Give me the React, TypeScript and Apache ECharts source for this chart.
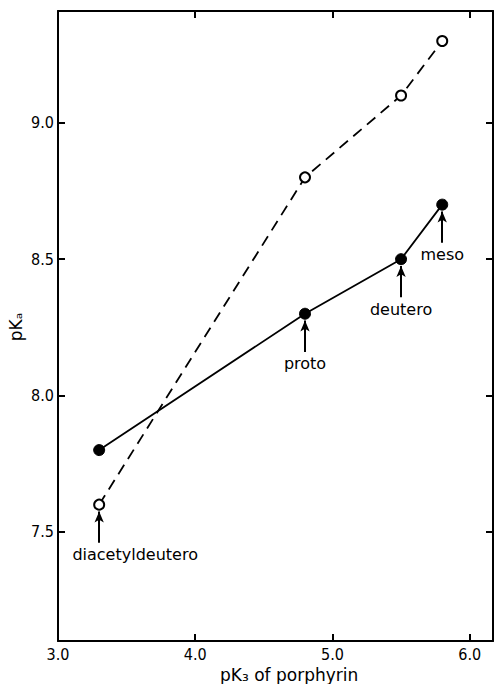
import React, { useEffect, useRef } from "react";
import * as echarts from "echarts";

const xValues = [3.3, 4.8, 5.5, 5.8];
const openValues = [7.6, 8.8, 9.1, 9.3];
const filledValues = [7.8, 8.3, 8.5, 8.7];
const openNames = ["diacetyldeutero", "", "", ""];
const filledNames = ["", "proto", "deutero", "meso"];
const xTicks = [3, 4, 5, 6];
const yTicks = [7.5, 8.0, 8.5, 9.0];
const xTitle = "pK\u2083 of porphyrin";
const yTitle = "pK\u2090";

const X_MIN = 3;
const X_MAX = 6.17;
const Y_MIN = 7.1;
const Y_MAX = 9.41;

const LABEL_FONT = "'DejaVu Sans', sans-serif";
const TICK_FONT = "'DejaVu Sans Condensed', 'DejaVu Sans', sans-serif";

function arrowsFor(names: string[], ys: number[]) {
  const out: any[] = [];
  names.forEach((n, i) => {
    if (!n) return;
    out.push([
      { coord: [xValues[i], ys[i] - 0.025] },
      { coord: [xValues[i], ys[i] - 0.14] },
    ]);
  });
  return out;
}

function makeData(ys: number[], names: string[], extraOffset: number[][]) {
  return xValues.map((x, i) => ({
    value: [x, ys[i]],
    name: names[i],
    label: names[i]
      ? {
          show: true,
          position: "bottom",
          distance: 36,
          offset: extraOffset[i],
          formatter: "{b}",
          color: "#000",
          fontSize: 16,
          fontFamily: LABEL_FONT,
        }
      : { show: false },
  }));
}

export default function App() {
  const ref = useRef<HTMLDivElement>(null);
  useEffect(() => {
    if (!ref.current) return;
    const chart = echarts.init(ref.current, null, { renderer: "svg" });
    const axisLine = { show: true, lineStyle: { color: "#000", width: 2 } };
    const tickStyle = { color: "#000", width: 2 };
    const option: any = {
      animation: false,
      backgroundColor: "#fff",
      grid: { left: 58, right: 2, top: 11, bottom: 43 },
      xAxis: [
        {
          type: "value",
          position: "bottom",
          min: X_MIN,
          max: X_MAX,
          axisLine,
          splitLine: { show: false },
          axisTick: {
            show: true,
            inside: true,
            length: 7,
            customValues: xTicks,
            lineStyle: tickStyle,
          },
          axisLabel: {
            customValues: xTicks,
            formatter: (v: number) => v.toFixed(1),
            color: "#000",
            fontSize: 16,
            fontFamily: TICK_FONT,
            margin: 5,
          },
        },
        {
          type: "value",
          position: "top",
          min: X_MIN,
          max: X_MAX,
          axisLine,
          splitLine: { show: false },
          axisTick: {
            show: true,
            inside: true,
            length: 7,
            customValues: [4, 5, 6],
            lineStyle: tickStyle,
          },
          axisLabel: { show: false },
        },
      ],
      yAxis: [
        {
          type: "value",
          position: "left",
          min: Y_MIN,
          max: Y_MAX,
          axisLine,
          splitLine: { show: false },
          axisTick: {
            show: true,
            inside: true,
            length: 7,
            customValues: yTicks,
            lineStyle: tickStyle,
          },
          axisLabel: {
            customValues: yTicks,
            formatter: (v: number) => v.toFixed(1),
            color: "#000",
            fontSize: 16,
            fontFamily: TICK_FONT,
            margin: 4,
          },
        },
        {
          type: "value",
          position: "right",
          min: Y_MIN,
          max: Y_MAX,
          axisLine,
          splitLine: { show: false },
          axisTick: {
            show: true,
            inside: true,
            length: 7,
            customValues: yTicks,
            lineStyle: tickStyle,
          },
          axisLabel: { show: false },
        },
      ],
      graphic: [
        {
          type: "text",
          left: 220,
          top: 666,
          style: {
            text: xTitle,
            fill: "#000",
            font: `17px ${LABEL_FONT}`,
          },
        },
        {
          type: "text",
          x: 16,
          y: 327,
          rotation: Math.PI / 2,
          style: {
            text: yTitle,
            fill: "#000",
            font: `17px ${LABEL_FONT}`,
            align: "center",
            verticalAlign: "middle",
          },
        },
      ],
      series: [
        {
          name: "open",
          type: "line",
          xAxisIndex: 0,
          yAxisIndex: 0,
          data: makeData(openValues, openNames, [[36, 0], [0, 0], [0, 0], [0, 0]]),
          symbol: "circle",
          symbolSize: 10,
          lineStyle: { color: "#000", width: 1.8, type: [11, 7] },
          itemStyle: { color: "#fff", borderColor: "#000", borderWidth: 2 },
          z: 3,
          markLine: {
            silent: true,
            symbol: ["arrow", "none"],
            symbolSize: [7, 11],
            label: { show: false },
            lineStyle: { color: "#000", width: 2, type: "solid" },
            data: arrowsFor(openNames, openValues),
          },
        },
        {
          name: "filled",
          type: "line",
          xAxisIndex: 0,
          yAxisIndex: 0,
          data: makeData(filledValues, filledNames, [[0, 0], [0, 0], [0, 0], [0, 0]]),
          symbol: "circle",
          symbolSize: 11,
          lineStyle: { color: "#000", width: 1.8, type: "solid" },
          itemStyle: { color: "#000", borderColor: "#000", borderWidth: 1 },
          z: 4,
          markLine: {
            silent: true,
            symbol: ["arrow", "none"],
            symbolSize: [7, 11],
            label: { show: false },
            lineStyle: { color: "#000", width: 2, type: "solid" },
            data: arrowsFor(filledNames, filledValues),
          },
        },
      ],
    };
    chart.setOption(option);
    return () => chart.dispose();
  }, []);
  return (
    <div
      ref={ref}
      style={{ position: "absolute", left: 0, top: 0, width: 495, height: 684 }}
    />
  );
}
